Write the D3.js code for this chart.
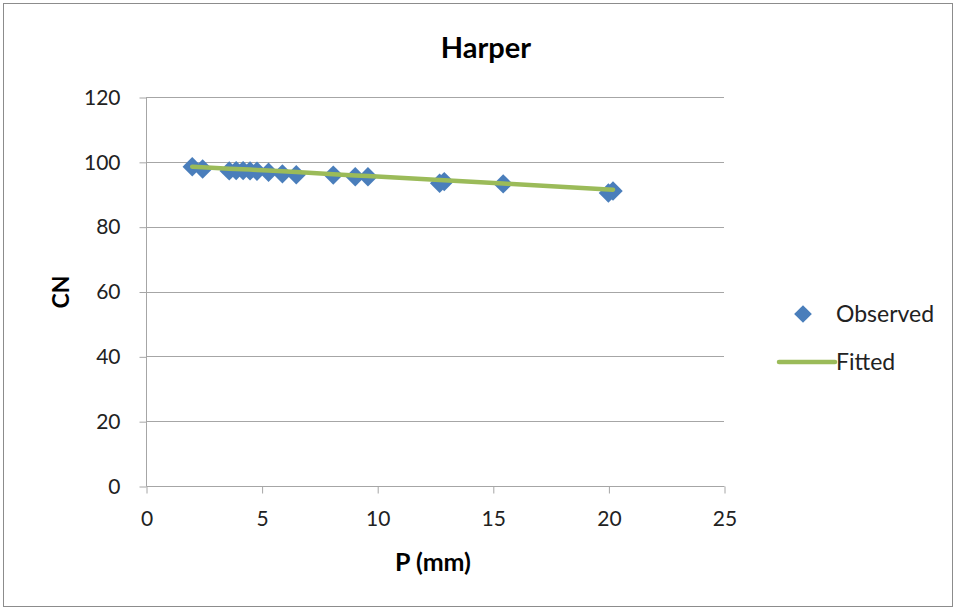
<!DOCTYPE html>
<html><head><meta charset="utf-8">
<script src="https://cdn.jsdelivr.net/npm/d3@7"></script>
<style>body{margin:0;background:#fff}text{font-family:Lato,"Open Sans","Liberation Sans",sans-serif}</style>
</head><body><svg id="c" width="956" height="610"></svg>
<script>
const observedP  = [2.0, 2.45, 3.6, 3.9, 4.2, 4.5, 4.8, 5.3, 5.9, 6.5, 8.1, 9.05, 9.6, 12.7, 12.9, 15.45, 20.0, 20.2];
const observedCN = [98.5, 97.8, 97.2, 97.3, 97.3, 97.2, 97.1, 96.8, 96.3, 96.0, 95.9, 95.4, 95.4, 93.4, 93.9, 93.2, 90.4, 91.0];
const fittedP  = [2.0, 2.45, 3.6, 3.9, 4.2, 4.5, 4.8, 5.3, 5.9, 6.5, 8.1, 9.05, 9.6, 12.7, 12.9, 15.45, 20.0, 20.2];
const fittedCN = [98.5, 98.3, 97.9, 97.8, 97.7, 97.6, 97.5, 97.3, 97.1, 96.9, 96.2, 95.8, 95.6, 94.4, 94.3, 93.3, 91.5, 91.4];
const xTicks = [0, 5, 10, 15, 20, 25];
const yTicks = [0, 20, 40, 60, 80, 100, 120];
const title = "Harper", xTitle = "P (mm)", yTitle = "CN";
const seriesNames = ["Observed", "Fitted"];

const svg = d3.select("#c");
svg.append("rect").attr("x",3.5).attr("y",3.5).attr("width",949).attr("height",603)
  .attr("fill","#fff").attr("stroke","#8c8c8c").attr("stroke-width",1);

const x = d3.scaleLinear().domain([0,25]).range([146,724]);
const y = d3.scaleLinear().domain([0,120]).range([486,97]);

svg.append("g").selectAll("line").data(yTicks.filter(d=>d>0)).join("line")
  .attr("x1",x(0)).attr("x2",x(25)).attr("y1",d=>Math.round(y(d))+0.5).attr("y2",d=>Math.round(y(d))+0.5)
  .attr("stroke","#a6a6a6").attr("stroke-width",1);

const yAxis = d3.axisLeft(y).tickValues(yTicks).tickSize(7).tickPadding(19).tickFormat(d3.format("d"));
const gy = svg.append("g").attr("transform",`translate(${x(0)+0.5},0.5)`).call(yAxis);
const xAxis = d3.axisBottom(x).tickValues(xTicks).tickSize(7).tickPadding(18).tickFormat(d3.format("d"));
const gx = svg.append("g").attr("transform",`translate(0.5,${Math.round(y(0))+0.5})`).call(xAxis);
[gx,gy].forEach(g=>{
  g.select(".domain").attr("stroke","#a6a6a6");
  g.selectAll(".tick line").attr("stroke","#a6a6a6");
  g.selectAll(".tick text").attr("fill","#222").style("font-size","21px");
});
gx.select(".domain").attr("d",`M${x(0)},0H${x(25)}`);
gy.select(".domain").attr("d",`M0,${y(120)}V${y(0)}`);

const fitted = fittedP.map((p,i)=>[p,fittedCN[i]]);
const obs = observedP.map((p,i)=>[p,observedCN[i]]);
const diamond = d3.symbol().type(d3.symbolDiamond2).size(240);
svg.append("g").selectAll("path").data(obs).join("path")
  .attr("transform",d=>`translate(${x(d[0])},${y(d[1])})`)
  .attr("d",diamond).attr("fill","#4a7ebb");
svg.append("path").datum(fitted)
  .attr("d",d3.line().x(d=>x(d[0])).y(d=>y(d[1])))
  .attr("fill","none").attr("stroke","#9bbb59").attr("stroke-width",4.5).attr("stroke-linecap","round");

svg.append("text").attr("x",486).attr("y",58).attr("text-anchor","middle")
  .style("font-size","29px").style("font-weight","bold").attr("fill","#000").text(title);
svg.append("text").attr("x",433).attr("y",571).attr("text-anchor","middle")
  .style("font-size","25px").style("font-weight","bold").attr("fill","#000").text(xTitle);
svg.append("text").attr("transform","translate(69,292) rotate(-90)").attr("text-anchor","middle")
  .style("font-size","23px").style("font-weight","bold").attr("fill","#000").text(yTitle);

const lg = svg.append("g");
lg.append("path").attr("transform","translate(803,314)").attr("d",d3.symbol().type(d3.symbolDiamond2).size(200)).attr("fill","#4a7ebb");
lg.append("text").attr("x",836).attr("y",322).style("font-size","23px").attr("fill","#222").text(seriesNames[0]);
lg.append("line").attr("x1",779).attr("x2",835).attr("y1",362).attr("y2",362)
  .attr("stroke","#9bbb59").attr("stroke-width",4.5).attr("stroke-linecap","round");
lg.append("text").attr("x",836).attr("y",370).style("font-size","23px").attr("fill","#222").text(seriesNames[1]);
</script></body></html>
